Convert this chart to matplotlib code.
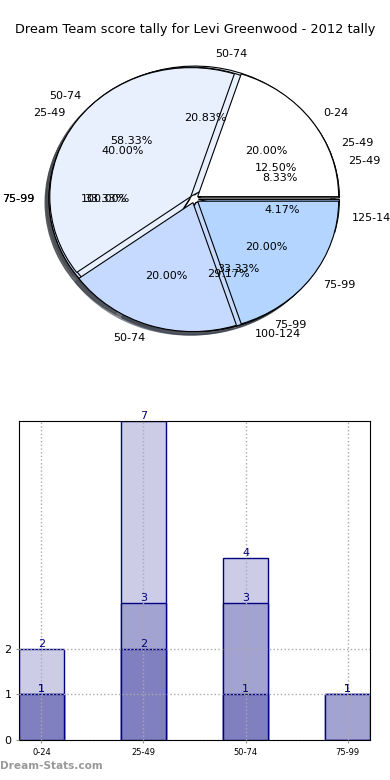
import matplotlib.pyplot as plt

title = "Dream Team score tally for Levi Greenwood - 2012 tally"

# pies drawn one over another, last one on top
pie_d_labels = ["75-99"]
pie_d_values = [1]
pie_a_labels = ["25-49", "50-74", "75-99", "100-124", "125-149"]
pie_a_values = [3, 5, 8, 7, 1]
pie_c_labels = ["25-49", "50-74", "75-99"]
pie_c_values = [1, 7, 4]
pie_b_labels = ["0-24", "25-49", "50-74", "75-99"]
pie_b_values = [1, 2, 1, 1]

pie_colors = ["#ffffff", "#e8f0fe", "#c6d9fe", "#b3d5ff", "#a0c8fd", "#8cbcfc"]

# stacked (overlaid) bars
bar_cats = ["0-24", "25-49", "50-74", "75-99"]
bar_light = [2, 7, 4, 1]
bar_medium = [1, 3, 3, 1]
bar_dark = [1, 2, 1, 0]


def draw_pie(ax, values, labels):
    ax.pie(values, labels=labels, colors=pie_colors[:len(values)],
           explode=[0.03] * len(values), autopct="%.2f%%", shadow=True,
           wedgeprops=dict(edgecolor="black", linewidth=0.8),
           textprops=dict(fontsize=8))


def main():
    fig = plt.figure(figsize=(3.9, 7.8), dpi=100)
    fig.text(0.5, 0.962, title, ha="center", va="center", fontsize=9.3)

    ax = fig.add_axes([0.028, 0.530, 0.94, 0.43])
    for vals, labs in [(pie_d_values, pie_d_labels), (pie_a_values, pie_a_labels),
                       (pie_c_values, pie_c_labels), (pie_b_values, pie_b_labels)]:
        draw_pie(ax, vals, labs)
    ax.set_aspect("auto")
    ax.set_xlim(-1.3, 1.3)
    ax.set_ylim(-1.3, 1.3)
    ax.axis("off")

    bx = fig.add_axes([0.0487, 0.0513, 0.9, 0.409])
    x = range(len(bar_cats))
    w = 0.44
    for vals, col in [(bar_light, "#ccccE6"), (bar_medium, "#a3a3d1"), (bar_dark, "#8080c0")]:
        bx.bar(x, vals, width=w, color=col, edgecolor="#000080", linewidth=1, zorder=2)
        for xi, v in zip(x, vals):
            if v > 0:
                bx.text(xi, v, str(v), ha="center", va="bottom", fontsize=8,
                        color="#000080", zorder=4)
    bx.set_xlim(-w / 2, 3 + w / 2)
    bx.set_ylim(0, 7)
    bx.set_xticks(list(x))
    bx.set_xticklabels(bar_cats, fontsize=6)
    bx.set_yticks([0, 1, 2])
    bx.tick_params(axis="y", labelsize=8, length=2, color="#999999")
    bx.tick_params(axis="x", length=2, color="#999999")
    bx.grid(True, linestyle=":", color="#aaaaaa", linewidth=1, zorder=3)
    bx.set_axisbelow(False)

    fig.text(0.0, 0.012, "Dream-Stats.com", fontsize=7.6, fontweight="bold",
             color="#999999", ha="left", va="bottom")

    fig.savefig("out.png", dpi=100)


if __name__ == "__main__":
    main()
